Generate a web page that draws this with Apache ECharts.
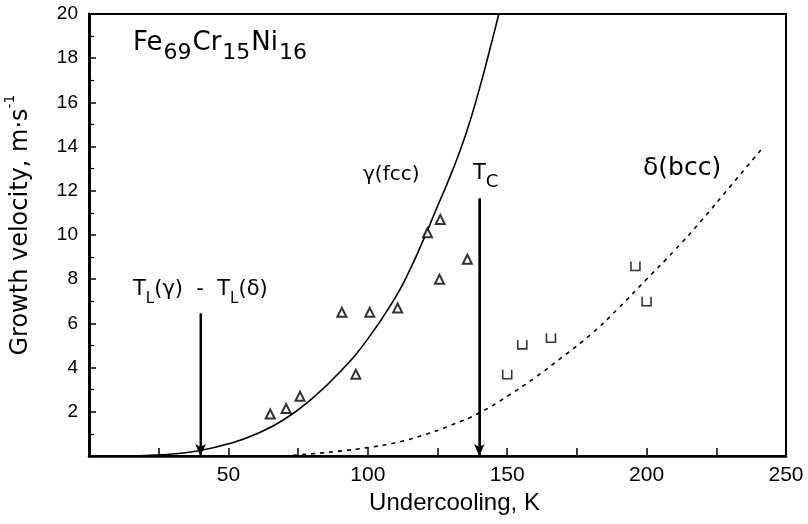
<!DOCTYPE html>
<html><head><meta charset="utf-8">
<script src="https://cdn.jsdelivr.net/npm/echarts@6/dist/echarts.min.js"></script>
<style>html,body{margin:0;padding:0;background:#fff}#c{width:808px;height:524px}</style>
</head><body><div id="c"></div>
<script>
// Data
const gammaPoints = [[65,1.9],[70.7,2.15],[75.7,2.7],[90.7,6.5],[100.7,6.5],[110.7,6.7],[95.7,3.7],[121.4,10.1],[126,10.7],[125.7,8.0],[135.7,8.9]];
const deltaPoints = [[150,3.7],[155.4,5.05],[165.7,5.35],[196,8.6],[200,7.0]];
const gammaCurve = [[17,0],[20,0.02],[30,0.09],[40,0.25],[50,0.55],[60,1.0],[70,1.65],[80,2.6],[90,3.8],[100,5.3],[110,7.2],[115,8.4],[120,9.8],[125,11.3],[130,12.8],[135,14.5],[140,16.6],[145,19],[147,20]];
const deltaCurve = [[70,0],[80,0.1],[90,0.22],[100,0.38],[110,0.6],[120,0.95],[130,1.4],[140,1.95],[150,2.7],[160,3.55],[170,4.5],[180,5.5],[190,6.7],[200,8.0],[210,9.3],[220,10.7],[230,12.2],[242,14.0]];
const arrowTL = [[40,6.45],[40,0]];
const arrowTC = [[140,11.65],[140,0]];
const xTicks = [0,250,50];
const yTicks = [0,20,2];

const FONT = 'Liberation Sans';
const WIDE = 'DejaVu Sans';
const chart = echarts.init(document.getElementById('c'));
chart.setOption({
  animation:false,
  backgroundColor:'#fff',
  grid:{left:89,right:22,top:14,bottom:68,outerBoundsMode:'none',containLabel:false,show:true,borderColor:'#000',borderWidth:2,backgroundColor:'transparent'},
  xAxis:{type:'value',min:xTicks[0],max:xTicks[1],interval:xTicks[2],
    axisLine:{lineStyle:{color:'#000',width:2.5}},
    axisTick:{inside:true,length:8,lineStyle:{color:'#000',width:1.5}},
    minorTick:{show:true,splitNumber:2,length:8,lineStyle:{color:'#000',width:1.5}},
    splitLine:{show:false},
    axisLabel:{margin:9,color:'#000',fontFamily:FONT,fontSize:21,formatter:v=>v===0?'':String(v)},
    name:'Undercooling, K',nameLocation:'middle',nameGap:33,
    nameTextStyle:{color:'#000',fontFamily:FONT,fontSize:24,padding:[0,0,0,34]}
  },
  yAxis:{type:'value',min:yTicks[0],max:yTicks[1],interval:yTicks[2],
    axisLine:{lineStyle:{color:'#000',width:3}},
    axisTick:{inside:true,length:7,lineStyle:{color:'#000',width:1.5}},
    minorTick:{show:true,splitNumber:2,length:5,lineStyle:{color:'#000',width:1.2}},
    splitLine:{show:false},
    axisLabel:{margin:11,color:'#000',fontFamily:FONT,fontSize:19,formatter:v=>v===0?'':String(v)},
    name:'{a|Growth velocity, m·s}{s|-1}',nameLocation:'middle',nameGap:56,nameRotate:90,
    nameTextStyle:{color:'#000',fontFamily:WIDE,fontSize:24,padding:[0,0,0,20],
      rich:{a:{fontFamily:WIDE,fontSize:24,color:'#000',lineHeight:30,verticalAlign:'bottom'},
            s:{fontFamily:WIDE,fontSize:14,color:'#000',lineHeight:30,verticalAlign:'top'}}}
  },
  series:[
    {type:'line',data:gammaCurve,smooth:true,showSymbol:false,lineStyle:{color:'#000',width:1.6},z:3},
    {type:'line',data:deltaCurve,smooth:true,showSymbol:false,lineStyle:{color:'#000',width:1.6,type:[4,5]},z:3},
    {type:'scatter',data:gammaPoints,symbol:'emptyTriangle',symbolSize:[9,9],
      itemStyle:{color:'#000',borderColor:'#000',borderWidth:1.5},z:4},
    {type:'scatter',data:deltaPoints,symbol:'path://M0,0L0,10L10,10L10,0',symbolSize:[9,9],
      itemStyle:{color:'transparent',borderColor:'#000',borderWidth:1.6},z:4},
    {type:'line',data:arrowTL,showSymbol:false,lineStyle:{color:'#000',width:2},z:5,
      markLine:{silent:true,symbol:['none','arrow'],symbolSize:[8,12],label:{show:false},lineStyle:{color:'#000',width:2,type:'solid'},
        data:[[{coord:arrowTL[0]},{coord:arrowTL[1]}]]}},
    {type:'line',data:arrowTC,showSymbol:false,lineStyle:{color:'#000',width:2},z:5,
      markLine:{silent:true,symbol:['none','arrow'],symbolSize:[8,12],label:{show:false},lineStyle:{color:'#000',width:2,type:'solid'},
        data:[[{coord:arrowTC[0]},{coord:arrowTC[1]}]]}}
  ],
  graphic:[
    {type:'text',left:133,top:30,style:{text:'{m|Fe}{s|69}{m|Cr}{s|15}{m|Ni}{s|16}',
      rich:{m:{fontFamily:WIDE,fontSize:26,fill:'#000',lineHeight:34,verticalAlign:'top'},
            s:{fontFamily:WIDE,fontSize:22,fill:'#000',lineHeight:34,verticalAlign:'bottom',padding:[0,1,0,1]}}}},
    {type:'text',left:363,top:165,style:{text:'γ(fcc)',fontFamily:WIDE,fontSize:20,fill:'#000'}},
    {type:'text',left:473,top:163,style:{text:'{m|T}{s|C}',
      rich:{m:{fontFamily:WIDE,fontSize:21,fill:'#000',lineHeight:28,verticalAlign:'top'},
            s:{fontFamily:WIDE,fontSize:18,fill:'#000',lineHeight:28,verticalAlign:'bottom'}}}},
    {type:'text',left:643,top:156,style:{text:'δ(bcc)',fontFamily:WIDE,fontSize:25,fill:'#000'}},
    {type:'text',left:133,top:279,style:{text:'{m|T}{s|L}{m|(γ)  -  T}{s|L}{m|(δ)}',
      rich:{m:{fontFamily:WIDE,fontSize:21,fill:'#000',lineHeight:28,verticalAlign:'top'},
            s:{fontFamily:WIDE,fontSize:15,fill:'#000',lineHeight:28,verticalAlign:'bottom'}}}}
  ]
});
</script></body></html>
